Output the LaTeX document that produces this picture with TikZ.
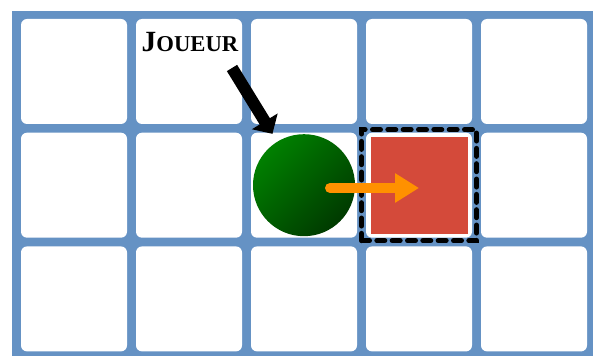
\documentclass[tikz,border=0pt]{standalone}
\usepackage{fontspec}
\setmainfont{Liberation Serif}
\usetikzlibrary{arrows.meta}
\definecolor{grille}{RGB}{101,146,196}
\definecolor{vertclair}{RGB}{0,128,0}
\definecolor{vertfonce}{RGB}{0,58,0}
\definecolor{rouge}{RGB}{212,74,58}
\definecolor{orange}{RGB}{255,145,0}

\begin{document}
\begin{tikzpicture}[x=0.75pt,y=-0.75pt,
  case/.style={fill=white,rounded corners=4.5pt,minimum width=79.5pt,minimum height=78.75pt,inner sep=0pt},
  pion/.style={circle,minimum size=76.5pt,inner sep=0pt,shade,top color=vertclair,bottom color=vertfonce,shading angle=45},
  cible/.style={fill=rouge,minimum size=72.75pt,inner sep=0pt},
  cadre/.style={draw=black,line width=3.75pt,dash pattern=on 6pt off 5.5pt,line cap=round,minimum width=86.25pt,minimum height=83.25pt,inner sep=0pt},
  fleche noire/.style={line width=9pt,-{Triangle[length=11pt,width=22pt]}},
  fleche orange/.style={orange,line width=7.5pt,line cap=round,-{Triangle[length=18pt,width=21pt]}}]
  \useasboundingbox (0,0) rectangle (593,356);
  \fill[grille] (12,11) rectangle (593,356);
  \foreach \i in {0,...,4}
    \foreach \j in {0,...,2}
      \node[case] (c-\i-\j) at (74+115*\i,71.5+113.7*\j) {};
  \node[pion] (joueur) at (c-2-1) {};
  \node[cible] (cible) at (c-3-1) {};
  \node[cadre] (cadre) at (cible) {};
  \node[font=\bfseries] (etiquette) at (190,42) {{\fontsize{22}{22}\selectfont J}{\fontsize{17}{17}\selectfont OUEUR}};
  \coordinate (depart) at (232,68);
  \draw[fleche noire,shorten >=6.75pt] (depart) -- (joueur);
  \coordinate (elan) at (330,188);
  \draw[fleche orange] (elan) -- (elan -| cible.center);
\end{tikzpicture}
\end{document}
